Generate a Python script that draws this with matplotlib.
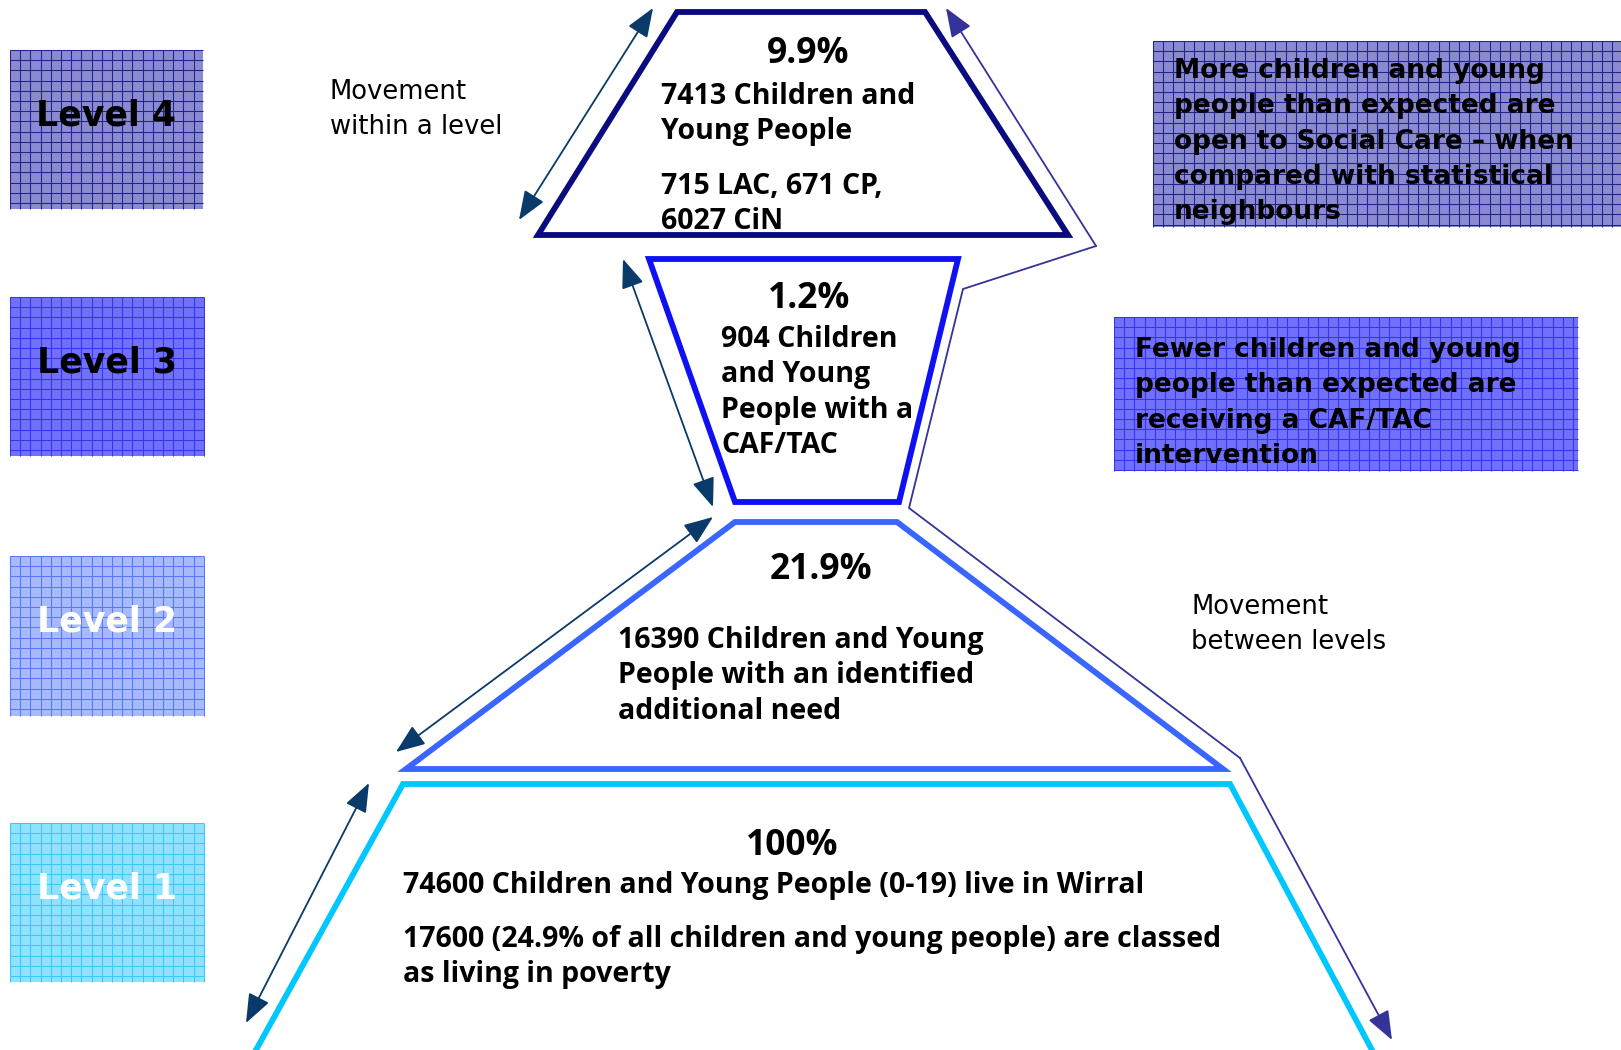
import matplotlib
matplotlib.use("Agg")
import matplotlib.pyplot as plt
from matplotlib.patches import Rectangle, Polygon
from matplotlib.collections import LineCollection

# ---------------- data ----------------
level_names = ["Level 4", "Level 3", "Level 2", "Level 1"]
level_pcts = ["9.9%", "1.2%", "21.9%", "100%"]
level_counts = [7413, 904, 16390, 74600]
level4_breakdown = {"LAC": 715, "CP": 671, "CiN": 6027}
poverty_count = 17600
poverty_pct = 24.9
age_range = "(0-19)"
area = "Wirral"
note_social_care = ["More children and young", "people than expected are",
                    "open to Social Care \u2013 when", "compared with statistical",
                    "neighbours"]
note_caf = ["Fewer children and young", "people than expected are",
            "receiving a CAF/TAC", "intervention"]
label_within = ["Movement", "within a level"]
label_between = ["Movement", "between levels"]

# ---------------- style / layout ----------------
W, H = 1621, 1050
fig = plt.figure(figsize=(W / 100, H / 100), dpi=100)
ax = fig.add_axes([0, 0, 1, 1])
ax.set_xlim(0, W)
ax.set_ylim(H, 0)
ax.axis("off")

FONT = "DejaVu Sans"
TFONT = "Open Sans"
LINE = 35.3  # line pitch in pixels


def lines(x, y0, rows, fs, weight="normal", family=FONT, color="black", ha="left"):
    for i, r in enumerate(rows):
        ax.text(x, y0 + i * LINE, r, ha=ha, va="baseline", fontsize=fs,
                fontweight=weight, family=family, color=color, zorder=6)


def grid_box(x0, y0, x1, y1, fill, line, step=10.2):
    ax.add_patch(Rectangle((x0, y0), x1 - x0, y1 - y0, facecolor=fill,
                           edgecolor="none", zorder=1))
    segs = []
    x = x0
    while x <= x1 + 0.1:
        segs.append([(x, y0), (x, y1)])
        x += step
    y = y0
    while y <= y1 + 0.1:
        segs.append([(x0, y), (x1, y)])
        y += step
    ax.add_collection(LineCollection(segs, colors=line, linewidths=0.75, zorder=2))


# level boxes (left)
level_boxes = [(10, 50, 203, 209), (10, 297, 204, 456), (10, 556, 204, 716), (10, 823, 204, 982)]
level_fill = ["#8a8ad0", "#7070fa", "#a8baff", "#8fe2ff"]
level_grid = ["#22228e", "#3535f0", "#5a78ff", "#3cc8f6"]
level_txt_col = ["black", "black", "white", "white"]
for name, b, f, g, tc in zip(level_names, level_boxes, level_fill, level_grid, level_txt_col):
    grid_box(*b, f, g)
    ax.text((b[0] + b[2]) / 2, (b[1] + b[3]) / 2 - 14, name, ha="center", va="center",
            fontsize=25, fontweight="bold", family=FONT, color=tc, zorder=3)

# note boxes (right)
grid_box(1153, 41, 1621, 227, "#8a8ad0", "#22228e")
lines(1174, 78, note_social_care, 19, weight="bold")
grid_box(1114, 317, 1578, 471, "#7070fa", "#3535f0")
lines(1135, 357, note_caf, 19, weight="bold")

# trapezoids
traps = [
    ([(677, 12), (925, 12), (1068, 235), (538, 235)], "#0b0b80"),
    ([(649, 259), (958, 259), (899, 502), (735, 502)], "#1010f5"),
    ([(735, 522), (897, 522), (1223, 769), (406, 769)], "#3a66ff"),
]
for pts, col in traps:
    ax.add_patch(Polygon(pts, closed=True, facecolor="none", edgecolor=col,
                         linewidth=4.2, joinstyle="miter", zorder=4))
# level 1 open trapezoid running off the bottom
ax.plot([256, 403, 1230, 1372], [1050, 784, 784, 1050], color="#00c8ff",
        lw=4.2, solid_joinstyle="miter", zorder=4)

# within-level double arrows
arr_col = "#0a3a6a"
within = [((519, 220), (653, 8)), ((623, 259), (713, 507)),
          ((396, 752), (713, 517)), ((246, 1023), (369, 783))]
for a, b in within:
    ax.annotate("", xy=b, xytext=a,
                arrowprops=dict(arrowstyle="<|-|>,head_length=0.9,head_width=0.35",
                                color=arr_col, lw=1.3, shrinkA=0, shrinkB=0,
                                mutation_scale=20), zorder=5)

# between-level polyline
bcol = "#333399"
px = [946, 1096, 963, 909, 1240, 1392]
py = [8, 246, 289, 508, 758, 1040]
ax.plot(px[1:-1], py[1:-1], color=bcol, lw=1.3, zorder=5)
for i0, i1 in ((1, 0), (-2, -1)):
    ax.annotate("", xy=(px[i1], py[i1]), xytext=(px[i0], py[i0]),
                arrowprops=dict(arrowstyle="-|>,head_length=0.9,head_width=0.35", color=bcol,
                                lw=1.3, shrinkA=0, shrinkB=0, mutation_scale=20), zorder=5)

# labels
lines(330, 99, label_within, 18.6)
lines(1191, 614, label_between, 18.6)

# trapezoid texts
PCT_FS = 25.5
TXT_FS = 20.5
lines(808, 63, [level_pcts[0]], PCT_FS, "bold", TFONT, ha="center")
lines(661, 104, [f"{level_counts[0]} Children and", "Young People"], TXT_FS, "bold", TFONT)
lines(661, 194, [f"{level4_breakdown['LAC']} LAC, {level4_breakdown['CP']} CP,",
                 f"{level4_breakdown['CiN']} CiN"], TXT_FS, "bold", TFONT)

lines(809, 308, [level_pcts[1]], PCT_FS, "bold", TFONT, ha="center")
lines(721, 347, [f"{level_counts[1]} Children", "and Young", "People with a", "CAF/TAC"],
      TXT_FS, "bold", TFONT)

lines(821, 579, [level_pcts[2]], PCT_FS, "bold", TFONT, ha="center")
lines(618, 648, [f"{level_counts[2]} Children and Young", "People with an identified",
                 "additional need"], TXT_FS, "bold", TFONT)

lines(792, 855, [level_pcts[3]], PCT_FS, "bold", TFONT, ha="center")
lines(403, 893, [f"{level_counts[3]} Children and Young People {age_range} live in {area}"],
      TXT_FS, "bold", TFONT)
lines(403, 947, [f"{poverty_count} ({poverty_pct}% of all children and young people) are classed",
                 "as living in poverty"], TXT_FS, "bold", TFONT)

fig.savefig("out.png", dpi=100)
